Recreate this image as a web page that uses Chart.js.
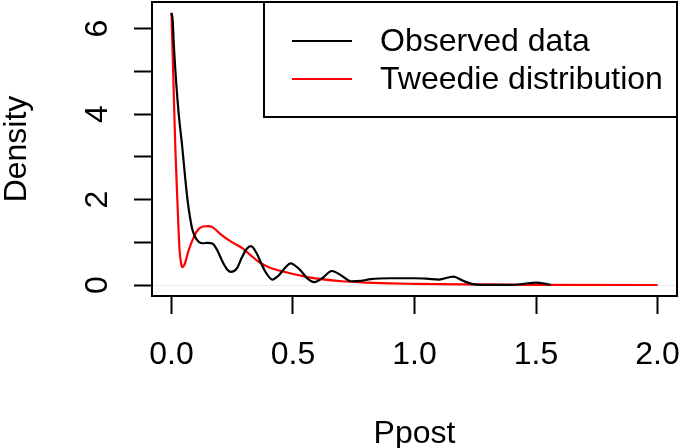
<!DOCTYPE html>
<html>
<head>
<meta charset="utf-8">
<script src="https://cdn.jsdelivr.net/npm/chart.js@4.4.0/dist/chart.umd.min.js"></script>
<style>
  html, body { margin: 0; padding: 0; background: #fff; }
  #wrap { width: 680px; height: 448px; }
</style>
</head>
<body>
<div id="wrap"><canvas id="c" width="680" height="448"></canvas></div>
<script>
// values
var obsX = [0, 0.005, 0.01, 0.02, 0.03, 0.045, 0.055, 0.066, 0.076, 0.086, 0.1, 0.115, 0.13, 0.15, 0.17, 0.19, 0.21, 0.23, 0.245,
  0.27, 0.29, 0.31, 0.327, 0.35, 0.37, 0.39, 0.415, 0.44, 0.47, 0.49, 0.53, 0.56, 0.587, 0.62, 0.66, 0.70, 0.74, 0.78,
  0.82, 0.9, 1.0, 1.05, 1.1, 1.16, 1.2, 1.235, 1.28, 1.4, 1.45, 1.5, 1.54, 1.56];
var obsY = [6.37, 6.2, 5.6, 4.7, 4.0, 3.2, 2.6, 2.0, 1.6, 1.3, 1.1, 1.0, 0.98, 0.99, 0.97, 0.8, 0.55, 0.36, 0.31,
  0.4, 0.65, 0.85, 0.91, 0.75, 0.5, 0.28, 0.13, 0.22, 0.42, 0.51, 0.35, 0.15, 0.07, 0.16, 0.33, 0.22, 0.09, 0.1,
  0.14, 0.16, 0.16, 0.15, 0.13, 0.2, 0.1, 0.03, 0.005, 0.005, 0.03, 0.06, 0.03, 0.005];

var twX = [0, 0.008, 0.016, 0.025, 0.033, 0.04, 0.045, 0.055, 0.07, 0.09, 0.11, 0.13, 0.15, 0.17, 0.2, 0.25, 0.29, 0.33,
  0.36, 0.4, 0.45, 0.5, 0.55, 0.6, 0.7, 0.8, 0.9, 1.0, 1.2, 1.5, 2.0];
var twY = [6.37, 4.8, 3.2, 1.9, 0.85, 0.5, 0.42, 0.5, 0.8, 1.1, 1.3, 1.37, 1.38, 1.35, 1.2, 1.0, 0.87, 0.68,
  0.54, 0.42, 0.33, 0.26, 0.2, 0.15, 0.09, 0.06, 0.04, 0.03, 0.015, 0.005, 0.002];

var xTicks = [0, 0.5, 1, 1.5, 2];
var yTicks = [0, 1, 2, 3, 4, 5, 6];
var yLabelled = [0, 2, 4, 6];

function pts(xs, ys) {
  return xs.map(function (x, i) { return { x: x, y: ys[i] }; });
}

var FONT = '"Liberation Sans", Arial, sans-serif';

// keep label overhang from shrinking the plot box
function noPad(s) {
  s.paddingTop = 0; s.paddingBottom = 0; s.paddingLeft = 0; s.paddingRight = 0;
}

// R style box + legend with a border
var rBox = {
  id: 'rBox',
  afterDraw: function (chart) {
    var ctx = chart.ctx, a = chart.chartArea;
    ctx.save();
    ctx.strokeStyle = '#000';
    ctx.lineWidth = 2;
    ctx.strokeRect(a.left, a.top, a.right - a.left, a.bottom - a.top);

    var lx = a.right - 413, ly = a.top, lw = 413, lh = 115;
    ctx.fillStyle = '#fff';
    ctx.fillRect(lx, ly, lw, lh);
    ctx.strokeRect(lx, ly, lw, lh);
    ctx.font = '32px ' + FONT;
    ctx.textBaseline = 'middle';
    ctx.textAlign = 'left';
    chart.data.datasets.forEach(function (ds, i) {
      var y = ly + 39 + i * 38;
      ctx.strokeStyle = ds.borderColor;
      ctx.beginPath();
      ctx.moveTo(lx + 28, y);
      ctx.lineTo(lx + 88, y);
      ctx.stroke();
      ctx.fillStyle = '#000';
      ctx.fillText(ds.label, lx + 116, y + 1);
    });
    ctx.restore();
  }
};

new Chart(document.getElementById('c'), {
  type: 'line',
  data: {
    datasets: [
      { label: 'Observed data', data: pts(obsX, obsY), borderColor: '#000000', borderWidth: 2.2,
        pointRadius: 0, cubicInterpolationMode: 'monotone', fill: false },
      { label: 'Tweedie distribution', data: pts(twX, twY), borderColor: '#ff0000', borderWidth: 2.2,
        pointRadius: 0, cubicInterpolationMode: 'monotone', fill: false }
    ]
  },
  options: {
    responsive: false,
    animation: false,
    layout: { padding: { top: 2, right: 3, left: 0, bottom: 0 } },
    plugins: { legend: { display: false }, tooltip: { enabled: false } },
    scales: {
      x: {
        type: 'linear',
        min: -0.08,
        max: 2.08,
        afterBuildTicks: function (s) { s.ticks = xTicks.map(function (v) { return { value: v }; }); },
        afterFit: function (s) { s.height = 152; noPad(s); },
        border: { display: false },
        grid: { drawOnChartArea: false, drawTicks: true, tickLength: 18, tickColor: '#000', tickWidth: 2 },
        ticks: {
          color: '#000', padding: 22, maxRotation: 0, autoSkip: false,
          font: { family: FONT, size: 32 },
          callback: function (v) { return Number(v).toFixed(1); }
        },
        title: { display: true, text: 'Ppost', color: '#000', font: { family: FONT, size: 32, lineHeight: 1 },
          padding: { top: 0, bottom: -2 } }
      },
      y: {
        type: 'linear',
        min: -0.255,
        max: 6.625,
        afterBuildTicks: function (s) { s.ticks = yTicks.map(function (v) { return { value: v }; }); },
        afterFit: function (s) { s.width = 152; noPad(s); },
        border: { display: false },
        grid: {
          drawOnChartArea: true, drawTicks: true, tickLength: 18, tickColor: '#000', tickWidth: 2,
          color: function (c) { return c.tick && c.tick.value === 0 ? '#ececec' : 'rgba(0,0,0,0)'; }
        },
        ticks: {
          color: '#000', padding: 27, minRotation: 90, maxRotation: 90, autoSkip: false, crossAlign: 'center',
          font: { family: FONT, size: 32 },
          callback: function (v) { return yLabelled.indexOf(v) >= 0 ? String(v) : ''; }
        },
        title: { display: true, text: 'Density', color: '#000', font: { family: FONT, size: 32, lineHeight: 1 },
          padding: { top: 1, bottom: 0 } }
      }
    }
  },
  plugins: [rBox]
});
</script>
</body>
</html>
